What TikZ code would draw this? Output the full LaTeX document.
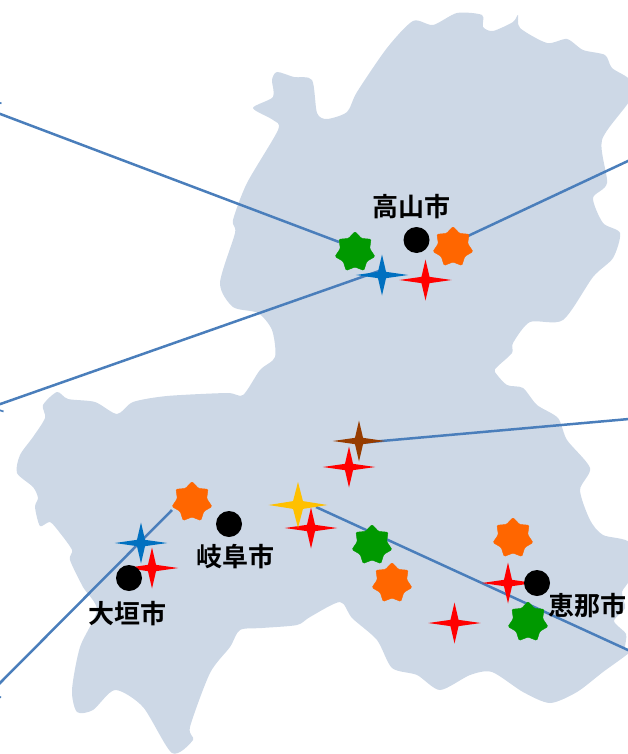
\documentclass[tikz,border=0pt]{standalone}
\usepackage{fontspec}
\newfontfamily\cjk{Noto Sans CJK JP}[BoldFont={* Bold}]
\usetikzlibrary{shapes.geometric,backgrounds}
\definecolor{mapfill}{HTML}{CDD8E6}
\definecolor{linkblue}{HTML}{4A7EBB}
\definecolor{stargreen}{HTML}{009900}
\definecolor{starorange}{HTML}{FF6600}
\definecolor{starblue}{HTML}{0070C0}
\definecolor{starbrown}{HTML}{963C00}
\definecolor{staryellow}{HTML}{FFC000}
\tikzset{
  sparkle/.style={star,star points=4,star point ratio=4.6,minimum size=41pt,inner sep=0pt,xscale=1.28,transform shape,fill=#1},
  bigsparkle/.style={sparkle=#1,minimum size=46pt,star point ratio=4.2},
  badge/.style={star,star points=7,star point ratio=1.36,minimum size=41pt,inner sep=0pt,fill=#1,draw=#1,line width=0.4pt,rounded corners=1.2pt},
  city/.style={circle,fill=black,minimum size=26pt,inner sep=0pt},
  citylabel/.style={font=\cjk\bfseries\fontsize{26}{28}\selectfont,text=black,inner sep=0pt},
  link/.style={draw=linkblue,line width=2.5pt},
  stub/.style={draw=linkblue,line width=1.6pt},
}
\begin{document}
\begin{tikzpicture}[x=1pt,y=-1pt]
\useasboundingbox (0,0) rectangle (628,754);
% foreground nodes, in drawing order
\node[badge=stargreen] (gA) at (355,252) {};
\node[badge=starorange] (oA) at (453,247) {};
\node[sparkle=starblue] (bA) at (382,275) {};
\node[sparkle=red] (rA) at (425.5,280) {};
\node[city] (takayama) at (416.5,240) {};
\node[citylabel] (ltakayama) at (411,207) {高山市};
\node[sparkle=starbrown] (brown) at (359,441) {};
\node[sparkle=red] (rB) at (349,467) {};
\node[sparkle=red] (rC) at (311,528) {};
\node[bigsparkle=staryellow] (yellow) at (298,505) {};
\node[badge=starorange] (oB) at (192,502) {};
\node[city] (gifu) at (229,524) {};
\node[citylabel] (lgifu) at (235,557) {岐阜市};
\node[sparkle=starblue] (bB) at (141,543) {};
\node[sparkle=red] (rD) at (152,568) {};
\node[city] (ogaki) at (129,578) {};
\node[citylabel] (logaki) at (127,614) {大垣市};
\node[badge=stargreen] (gB) at (372,545) {};
\node[badge=starorange] (oC) at (392,583) {};
\node[badge=starorange] (oD) at (513,538) {};
\node[sparkle=red] (rE) at (508,583) {};
\node[sparkle=red] (rF) at (454.5,623) {};
\node[city] (ena) at (537,583) {};
\node[badge=stargreen] (gC) at (528,622) {};
\node[citylabel] (lena) at (587,606) {恵那市};
% free ends at the picture edge
\coordinate (eA) at (-1,113.5);
\coordinate (eB) at (-1,404.5);
\coordinate (eC) at (629,160.5);
\coordinate (eD) at (629,419);
\coordinate (eE) at (629,650.5);
\coordinate (eF) at (-1,684);
\coordinate (tA1) at (-1,102.5);
\coordinate (tA2) at (1.5,103.5);
\coordinate (tB1) at (-1,410);
\coordinate (tB2) at (3.5,411.5);
\coordinate (tF1) at (-1,696.5);
\coordinate (tF2) at (1,697.5);
\begin{pgfonlayer}{background}
\fill[mapfill] plot[smooth cycle,tension=0.45] coordinates {
 (277,72) (294,77) (312,80) (317,113) (327,119) (347,112) (357,92) (387,48) (413,21) (433,25) (457,13) (482,15)
 (483,27) (493,31) (513,22) (518,15) (520,28) (547,43) (567,39) (583,50) (605,55) (612,68) (630,80)
 (630,100) (602,140) (607,183) (593,198) (603,223) (620,233) (613,258) (593,277) (563,320) (530,322)
 (513,343) (512,353) (497,367) (495,372) (507,385) (523,388) (537,405) (558,418) (567,440) (590,468)
 (580,490) (590,520) (603,535) (630,543) (630,578) (622,592) (625,608) (614,621) (626,634) (625,648) (630,652) (603,672) (577,692) (550,703)
 (523,692) (492,672) (470,675) (440,690) (417,675) (392,668) (377,640) (352,618) (340,602) (310,617)
 (297,625) (262,628) (240,630) (230,647) (210,673) (190,727) (193,740) (172,753) (143,707) (115,690) (93,710)
 (77,712) (72,690) (80,647) (97,610) (83,587) (70,560) (72,550) (60,533) (50,522) (40,526) (35,507) (38,498)
 (33,487) (17,473) (20,455) (33,437) (45,418) (43,405) (57,392) (68,399) (95,402) (117,414) (133,402) (167,396)
 (227,393) (243,395) (260,370) (275,357) (272,330) (258,313) (233,307) (220,283) (235,233) (233,220)
 (247,183) (278,130) (273,120) (253,108) (273,97) (272,80)
};
\draw[link] ([shift={(-16,-10)}]gA.center) -- (eA);
\draw[link] ([shift={(0,-5)}]bA.center) -- (eB);
\draw[link] ([shift={(0,-4)}]oA.center) -- (eC);
\draw[link] ([shift={(0,2)}]brown.center) -- (eD);
\draw[link] ([shift={(18,2)}]yellow.center) -- (eE);
\draw[link] ([shift={(-20,8)}]oB.center) -- (eF);
\draw[stub] (tA1) -- (tA2);
\draw[stub] (tB1) -- (tB2);
\draw[stub] (tF1) -- (tF2);
\end{pgfonlayer}
\end{tikzpicture}
\end{document}
